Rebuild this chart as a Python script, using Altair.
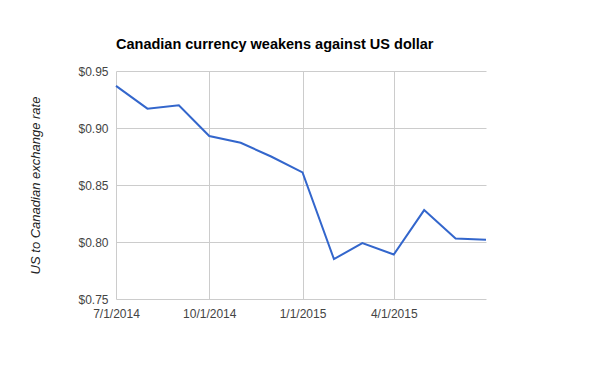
import altair as alt
import pandas as pd

dates = ["2014-07-01T00:00", "2014-08-01T00:00", "2014-09-01T00:00", "2014-10-01T00:00",
         "2014-11-01T00:00", "2014-12-01T00:00", "2015-01-01T00:00", "2015-02-01T00:00",
         "2015-03-01T00:00", "2015-04-01T00:00", "2015-05-01T00:00", "2015-06-01T00:00",
         "2015-07-01T00:00"]
rates = [0.937, 0.917, 0.920, 0.893, 0.887, 0.875, 0.861, 0.785, 0.799, 0.789, 0.828, 0.803, 0.802]
y_ticks = [0.75, 0.80, 0.85, 0.90, 0.95]
x_ticks = [(2014, 7), (2014, 10), (2015, 1), (2015, 4)]

df = pd.DataFrame({"date": dates, "rate": rates})

FONT = "Liberation Sans"

chart = alt.Chart(df).mark_line(color="#3366cc", strokeWidth=2).encode(
    x=alt.X("date:T",
            scale=alt.Scale(domain=[alt.DateTime(year=2014, month=7, date=1),
                                    alt.DateTime(year=2015, month=7, date=1)]),
            axis=alt.Axis(values=[alt.DateTime(year=y, month=m, date=1) for y, m in x_ticks],
                          format="%-m/%-d/%Y", title=None, grid=True, gridColor="#cccccc",
                          domain=False, ticks=False, labelFlush=False, labelPadding=9,
                          labelFont=FONT, labelFontSize=12, labelColor="#444444")),
    y=alt.Y("rate:Q",
            scale=alt.Scale(domain=[0.75, 0.95], nice=False, zero=False),
            axis=alt.Axis(values=y_ticks, format="$.2f", grid=True, gridColor="#cccccc",
                          domain=False, ticks=False, labelPadding=8,
                          labelFont=FONT, labelFontSize=12, labelColor="#444444",
                          title="US to Canadian exchange rate", titleFont=FONT,
                          titleFontSize=13, titleFontStyle="italic", titleFontWeight="normal",
                          titleColor="#222222", titleX=-74, titleY=114)),
).properties(
    width=370, height=228,
    title=alt.TitleParams("Canadian currency weakens against US dollar", anchor="start",
                          frame="group", font=FONT, fontSize=14.5, fontWeight="bold",
                          color="#000000", offset=13),
    autosize=alt.AutoSizeParams(type="none"),
    padding={"left": 108, "top": 63, "right": 100, "bottom": 60},
).configure_view(stroke=None)

chart.save("out.html", embed_options={"renderer": "svg", "actions": False})
